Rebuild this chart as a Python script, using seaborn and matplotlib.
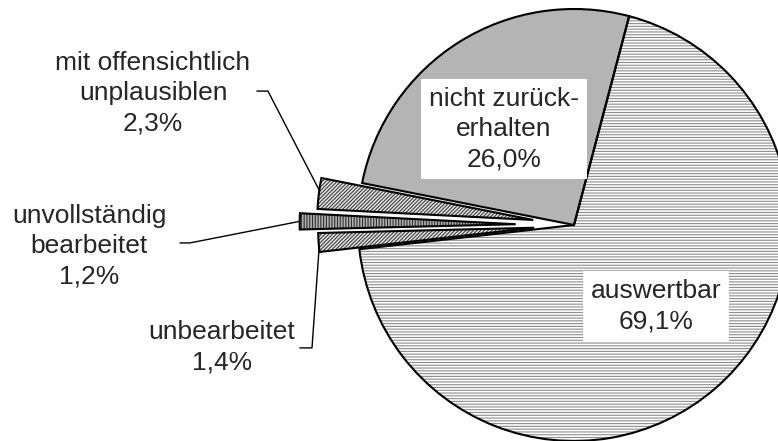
import numpy as np
import matplotlib
matplotlib.use('Agg')
import matplotlib.pyplot as plt
import seaborn as sns

# Data
categories = ['nicht zurück-\nerhalten', 'mit offensichtlich\nunplausiblen',
              'unvollständig\nbearbeitet', 'unbearbeitet', 'auswertbar']
shares = [26.0, 2.3, 1.2, 1.4, 69.1]

# Styling per slice
explode = [0, 0.19, 0.27, 0.185, 0]
fills = ['#b4b4b4', '#e6e6e6', '#b0b0b0', '#e6e6e6', 'white']
hatches = [None, '/////////', '||||||', '/////////', '------']
hatch_colors = ['#b4b4b4', '#3c3c3c', '#303030', '#3c3c3c', '#8c8c8c']

sns.set_theme(style='white')
plt.rcParams['font.family'] = ['Liberation Sans', 'DejaVu Sans']
plt.rcParams['hatch.linewidth'] = 0.8

fig = plt.figure(figsize=(7.78, 4.41), dpi=100)
ax = fig.add_axes([0, 0, 1, 1])

# filled / hatched layer
wedges, _ = ax.pie(shares, explode=explode, startangle=75.2, counterclock=True,
                   radius=1, wedgeprops=dict(linewidth=0))
for w, fc, h, hc in zip(wedges, fills, hatches, hatch_colors):
    w.set_facecolor(fc)
    w.set_edgecolor(hc)
    w.set_linewidth(0)
    if h:
        w.set_hatch(h)

# outline layer
outl, _ = ax.pie(shares, explode=explode, startangle=75.2, counterclock=True,
                 radius=1, wedgeprops=dict(facecolor='none', edgecolor='black', linewidth=1.5))

ax.set_aspect('equal', adjustable='datalim')
ax.set_xlim(-574 / 216, 204 / 216)
ax.set_ylim(-216 / 216, 225 / 216)
ax.axis('off')


def pct(v):
    return f'{v:.1f}'.replace('.', ',') + '%'


def edge_point(w, frac):
    th = np.deg2rad(w.theta1 + frac * (w.theta2 - w.theta1))
    cx, cy = w.center
    return cx + w.r * np.cos(th), cy + w.r * np.sin(th)


fs = 19
ls = 1.32
box = dict(facecolor='white', edgecolor='none', boxstyle='square,pad=0.3')

# labels inside the big slices
ax.text(-0.324, 0.444, categories[0] + '\n' + pct(shares[0]), ha='center', va='center',
        fontsize=fs, bbox=box, linespacing=ls)
ax.text(0.380, -0.375, categories[4] + '\n' + pct(shares[4]), ha='center', va='center',
        fontsize=fs, bbox=box, linespacing=ls)

# labels of the small slices with leader lines
outside = [
    (1, (-1.949, 0.611), [(-1.468, 0.620), (-1.417, 0.620)], 0.4),
    (2, (-2.245, -0.097), [(-1.824, -0.083), (-1.778, -0.083)], 0.5),
    (3, (-1.630, -0.565), [(-1.269, -0.569), (-1.213, -0.569)], 0.8),
]
for i, (tx, ty), pts, frac in outside:
    ax.text(tx, ty, categories[i] + '\n' + pct(shares[i]), ha='center', va='center',
            fontsize=fs, linespacing=ls)
    ex, ey = edge_point(wedges[i], frac)
    xs = [p[0] for p in pts] + [ex]
    ys = [p[1] for p in pts] + [ey]
    ax.plot(xs, ys, color='black', linewidth=1.0)

fig.savefig('out.png', dpi=100)
